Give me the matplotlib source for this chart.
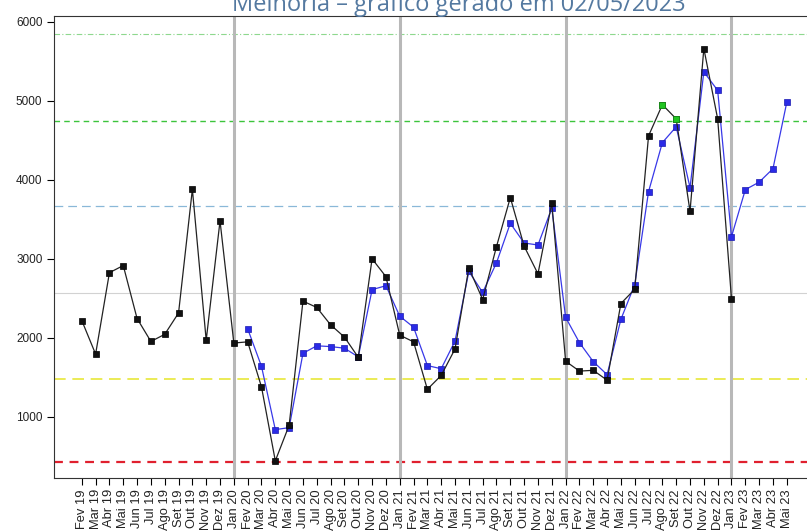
import matplotlib
matplotlib.use("Agg")
import matplotlib.pyplot as plt

plt.rcParams['font.family'] = ['Liberation Sans', 'DejaVu Sans']

months = ["Jan", "Fev", "Mar", "Abr", "Mai", "Jun", "Jul", "Ago", "Set", "Out", "Nov", "Dez"]
years = ["19", "20", "21", "22", "23"]
# Fev 19 .. Mai 23
labels = [m + " " + y for y in years for m in months][1:53]

# realizado (Fev 19 .. Jan 23)
realizado = [2220, 1795, 2825, 2915, 2245, 1955, 2045, 2315, 3880, 1970, 3480, 1935,
             1950, 1380, 445, 895, 2465, 2385, 2165, 2010, 1755, 3000, 2775, 2035,
             1950, 1350, 1525, 1860, 2885, 2485, 3155, 3775, 3160, 2810, 3705, 1705,
             1580, 1590, 1465, 2435, 2615, 4555, 4950, 4770, 3600, 5660, 4770, 2495]

# previsto (Fev 20 .. Mai 23)
previsto_inicio = 12
previsto = [2115, 1640, 840, 865, 1805, 1900, 1890, 1870, 1760, 2610, 2660, 2275,
            2135, 1650, 1610, 1960, 2840, 2575, 2950, 3450, 3200, 3175, 3640, 2260,
            1940, 1700, 1535, 2235, 2675, 3850, 4470, 4670, 3900, 5365, 5130, 3280,
            3875, 3970, 4140, 4980]

# meses destacados em verde
destaque = ["Ago 22", "Set 22"]

# linhas de controle
limites = [425, 1482, 2568, 3670, 4740, 5839]
lim_cores = ["#e0202e", "#e8e83a", "#d2d2d2", "#8ab8d8", "#3cc43c", "#8ed88e"]
lim_estilos = [(0, (4, 3)), (0, (7, 4)), "-", (0, (7, 4)), (0, (4, 3)), (0, (5, 2, 1, 2))]
lim_larguras = [1.6, 1.2, 0.8, 0.9, 1.0, 0.8]

viradas = ["Jan 20", "Jan 21", "Jan 22", "Jan 23"]

fig = plt.figure(figsize=(8.07, 5.32), dpi=100)
ax = fig.add_axes([0.0664, 0.1015, 0.9435, 0.8684])

x = list(range(len(labels)))

for v, c, ls, lw in zip(limites, lim_cores, lim_estilos, lim_larguras):
    ax.axhline(v, color=c, linestyle=ls, linewidth=lw, zorder=1)

for lab in viradas:
    ax.axvline(labels.index(lab), color="#b8b8b8", linewidth=2.2, zorder=1)

xp = x[previsto_inicio:previsto_inicio + len(previsto)]
ax.plot(xp, previsto, color="#3838e8", linewidth=0.9, marker="s", markersize=4.5,
        markerfacecolor="#2a2ae6", markeredgecolor="#1a1ab0", markeredgewidth=0.5, zorder=3)

xr = x[:len(realizado)]
ax.plot(xr, realizado, color="#222222", linewidth=0.9, marker="s", markersize=4.5,
        markerfacecolor="#111111", markeredgecolor="#000000", markeredgewidth=0.5, zorder=4)

for lab in destaque:
    i = labels.index(lab)
    ax.plot(i, realizado[i], linestyle="none", marker="s", markersize=4.5,
            markerfacecolor="#22c422", markeredgecolor="#169416", markeredgewidth=0.5, zorder=5)

ax.set_xlim(-2.04, 53.04)
ax.set_ylim(228, 6071)
ax.set_yticks([1000, 2000, 3000, 4000, 5000, 6000])
ax.set_xticks(x)
ax.set_xticklabels(labels, rotation=90, fontsize=9.3, color="#222222")
ax.tick_params(axis="y", labelsize=8.5, labelcolor="#222222", length=5, width=0.8, pad=3)
ax.tick_params(axis="x", length=5, width=0.8, pad=3)
for s in ax.spines.values():
    s.set_linewidth(0.8)
    s.set_color("#333333")

fig.text(0.568, 0.979, "Melhoria \u2013 gr\u00e1fico gerado em 02/05/2023",
         ha="center", va="baseline", fontsize=17, color="#5479a0", family="Open Sans")

fig.savefig("out.png", dpi=100)
